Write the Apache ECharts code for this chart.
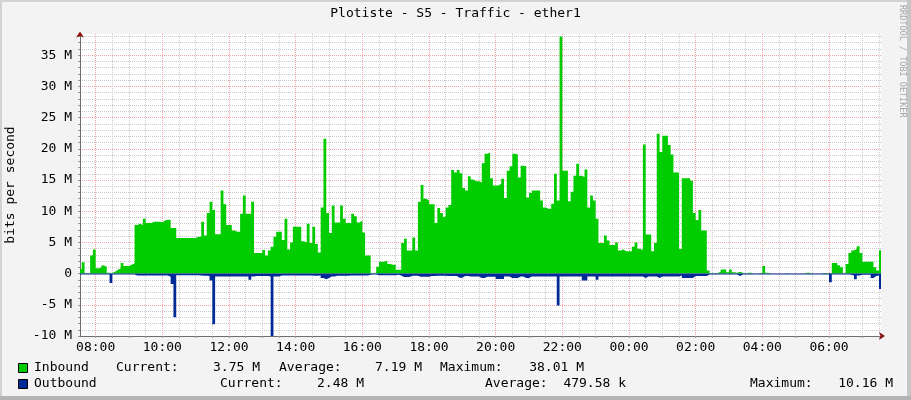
<!DOCTYPE html>
<html>
<head>
<meta charset="utf-8">
<script src="https://cdn.jsdelivr.net/npm/echarts@6/dist/echarts.min.js"></script>
<style>
html,body{margin:0;padding:0;background:#F3F3F3;}
#wrap{position:relative;width:911px;height:400px;overflow:hidden;background:#F3F3F3;}
#chart{position:absolute;left:0;top:0;width:911px;height:400px;}
.b{position:absolute;}
</style>
</head>
<body>
<div id="wrap">
<div id="chart"></div>
<div class="b" style="left:0;top:0;width:911px;height:2px;background:#D2D2D2"></div>
<div class="b" style="left:0;top:0;width:2px;height:400px;background:#D2D2D2"></div>
<div class="b" style="right:0;top:0;width:4px;height:400px;background:#C6C6C6"></div>
<div class="b" style="left:0;bottom:0;width:911px;height:4px;background:#B4B4B4"></div>
</div>
<script>
// ---- data (Mbit/s), 5-minute samples starting 07:30 ----
const startHour = 7.5;
const stepMinutes = 5;

const inboundM = [
 0.75,1.8,0.1,0.1,2.9,3.85,0.85,0.9,1.3,1.1,
 0.15,0.1,0.3,0.6,0.8,1.7,1.2,1.2,1.4,1.65,
 7.8,8.0,7.8,8.8,8.1,8.1,8.3,8.3,8.3,8.25,
 8.5,8.65,8.65,7.3,7.3,5.7,5.7,5.7,5.7,5.7,
 5.7,5.7,5.9,5.9,8.3,6.1,9.7,11.5,10.2,6.3,
 6.3,13.3,11.1,7.8,7.8,6.9,6.7,6.7,9.6,12.5,
 9.6,9.6,11.5,3.3,3.3,3.3,3.8,2.9,3.7,4.3,
 5.9,6.7,
 6.7,5.4,8.8,3.85,5.0,7.5,7.5,7.5,5.2,5.0,
 8.0,4.9,7.5,4.75,3.4,10.6,21.6,9.7,6.5,10.9,
 8.2,8.2,10.9,8.8,8.1,8.1,9.6,9.2,8.2,8.5,
 6.6,2.9,2.9,0.1,0.15,1.1,1.9,1.9,2.1,1.55,
 1.4,1.4,0.6,0.6,4.9,5.6,3.7,3.7,5.8,3.7,
 11.5,14.2,12.0,11.7,11.1,11.1,8.1,10.5,9.7,9.1,
 10.6,11.0,16.6,16.2,16.6,16.1,13.7,13.3,15.6,15.1,
 14.8,14.8,
 14.6,17.7,19.2,19.35,15.3,14.1,14.1,14.4,15.2,12.1,
 16.5,17.2,19.2,19.1,15.4,17.3,17.2,12.2,12.9,13.3,
 13.3,13.3,11.7,10.6,10.4,10.4,11.2,16.0,11.7,38.01,
 16.5,16.5,11.6,13.1,15.7,17.6,15.7,15.5,16.7,10.6,
 12.5,11.7,8.8,4.9,4.9,6.1,5.3,4.6,4.6,5.0,
 3.7,3.85,3.6,3.6,3.6,4.3,5.0,4.0,3.8,20.7,
 6.25,6.25,3.6,4.9,22.4,19.5,22.1,22.1,20.6,19.1,
 16.2,16.2,
 3.95,15.3,15.3,15.3,14.9,9.7,8.6,10.2,6.9,6.9,
 0.5,0.1,0.1,0.1,0.3,0.65,0.65,0.2,0.65,0.2,
 0.15,0.3,0.15,0,0.15,0.15,0,0,0.1,0.1,
 1.2,0.15,0.05,0,0,0,0,0,0.1,0,
 0,0,0,0,0,0.15,0.15,0,0,0,
 0,0.1,0.1,0.1,0.1,1.7,1.7,1.35,1.0,0.1,
 1.55,3.3,3.7,3.95,4.4,3.3,1.9,1.9,1.9,1.9,
 1.0,0.5,3.75
];

const outboundM = [
 0.15,0.15,0.15,0.15,0.15,0.15,0.15,0.15,0.15,0.15,
 0.15,1.5,0.15,0.15,0.15,0.15,0.15,0.15,0.15,0.15,
 0.3,0.3,0.3,0.3,0.3,0.3,0.3,0.3,0.3,0.3,
 0.3,0.3,0.5,1.65,7.0,0.25,0.25,0.25,0.25,0.25,
 0.25,0.25,0.25,0.3,0.35,0.35,0.4,1.1,8.1,0.45,
 0.45,0.45,0.45,0.45,0.45,0.45,0.45,0.45,0.45,0.45,
 0.45,1.0,0.45,0.4,0.4,0.4,0.4,0.4,0.45,10.16,
 0.45,0.45,
 0.3,0.3,0.3,0.3,0.3,0.3,0.3,0.3,0.3,0.3,
 0.3,0.3,0.35,0.35,0.3,0.7,0.9,0.7,0.45,0.45,
 0.35,0.35,0.35,0.35,0.35,0.3,0.3,0.3,0.3,0.3,
 0.3,0.3,0.2,0.15,0.15,0.25,0.25,0.25,0.25,0.25,
 0.25,0.25,0.2,0.3,0.55,0.55,0.55,0.35,0.35,0.35,
 0.5,0.5,0.5,0.5,0.4,0.4,0.35,0.35,0.35,0.35,
 0.4,0.4,0.4,0.4,0.65,0.65,0.4,0.4,0.45,0.45,
 0.45,0.45,
 0.7,0.7,0.5,0.5,0.5,0.5,0.85,0.85,0.85,0.45,
 0.45,0.7,0.7,0.7,0.45,0.45,0.7,0.7,0.45,0.45,
 0.45,0.45,0.45,0.45,0.45,0.45,0.45,0.45,5.1,0.45,
 0.45,0.45,0.45,0.45,0.45,0.45,0.45,1.1,1.1,0.45,
 0.45,0.45,1.0,0.45,0.45,0.45,0.45,0.45,0.45,0.45,
 0.45,0.45,0.45,0.45,0.45,0.45,0.45,0.45,0.45,0.7,
 0.45,0.45,0.45,0.45,0.7,0.45,0.45,0.45,0.45,0.45,
 0.45,0.45,
 0.3,0.7,0.7,0.7,0.7,0.4,0.4,0.4,0.4,0.4,
 0.15,0.15,0.15,0.15,0.15,0.15,0.15,0.15,0.15,0.15,
 0.15,0.4,0.15,0.15,0.15,0.15,0.15,0.15,0.15,0.15,
 0.15,0.15,0.15,0.15,0.15,0.15,0.15,0.15,0.15,0.15,
 0.15,0.15,0.15,0.15,0.15,0.15,0.15,0.15,0.15,0.15,
 0.15,0.15,0.15,0.15,1.4,0.15,0.15,0.15,0.15,0.15,
 0.15,0.2,0.3,0.9,0.3,0.2,0.2,0.2,0.2,0.7,
 0.4,0.3,2.48
];

const xMajorTicks = [8,10,12,14,16,18,20,22,24,26,28,30];
const yMajorTicks = [-10,-5,0,5,10,15,20,25,30,35];
const seriesNames = ['Inbound','Outbound'];
const statLabels = ['Current:','Average:','Maximum:'];
const inboundStats = ['3.75 M','7.19 M','38.01 M'];
const outboundStats = ['2.48 M','479.58 k','10.16 M'];
const titleText = 'Plotiste - S5 - Traffic - ether1';
const yAxisTitle = 'bits per second';
const watermark = 'RRDTOOL / TOBI OETIKER';

// ---- build ----
const FONT = 'DejaVu Sans Mono';
const X_MIN = 7.53, X_MAX = 31.56;
const Y_MIN = -10, Y_MAX = 38.4;
const stepH = stepMinutes / 60;
const xMinorTicks = [];
for (let h = 8; h <= 31.5; h += 0.5) xMinorTicks.push(h);
const yMinorTicks = [];
for (let v = -10; v <= 38; v += 1) yMinorTicks.push(v);

function toSeries(arr, sign) {
  const d = arr.map((v, i) => [startHour + i * stepH, sign * v]);
  d.push([startHour + arr.length * stepH, sign * arr[arr.length - 1]]);
  return d;
}
const GREEN = '#00CC00', BLUE = '#002A97';
const MINOR = '#CACACA', MAJOR = '#F2A3A3', AXIS = '#6E6E6E', ARROW = '#8B1010';
const seriesColors = [GREEN, BLUE];

const chart = echarts.init(document.getElementById('chart'), null, {renderer: 'canvas'});

const els = [];
const rowY = [368, 384];
const rowLabelX = [[116, 279, 440], [220, 485, 750]];
const rowValueX = [[260, 422, 584], [364, 626, 893]];
[inboundStats, outboundStats].forEach((stats, r) => {
  els.push({type: 'rect', silent: true, shape: {x: 18.5, y: rowY[r] - 4.5, width: 9, height: 9},
    style: {fill: seriesColors[r], stroke: '#000', lineWidth: 1}});
  els.push({type: 'text', silent: true, style: {text: seriesNames[r], x: 34, y: rowY[r], fill: '#000',
    font: '13px ' + FONT, textAlign: 'left', textVerticalAlign: 'middle'}});
  stats.forEach((s, c) => {
    els.push({type: 'text', silent: true, style: {text: statLabels[c], x: rowLabelX[r][c], y: rowY[r], fill: '#000', font: '13px ' + FONT, textAlign: 'left', textVerticalAlign: 'middle'}});
    els.push({type: 'text', silent: true, style: {text: s, x: rowValueX[r][c], y: rowY[r], fill: '#000', font: '13px ' + FONT, textAlign: 'right', textVerticalAlign: 'middle'}});
  });
});
els.push({type: 'text', silent: true, x: 902, y: 5, rotation: -Math.PI / 2,
  style: {text: watermark, x: 0, y: 0, fill: '#A6A6A6', font: '8.5px ' + FONT, textAlign: 'left', textVerticalAlign: 'middle'}});

const option = {
  animation: false,
  backgroundColor: '#F3F3F3',
  title: {text: titleText, left: 'center', top: 7, padding: 0,
    textStyle: {fontFamily: FONT, fontSize: 13, fontWeight: 'normal', color: '#000'}},
  grid: {left: 80, right: 30, top: 34, bottom: 64, containLabel: false, outerBoundsMode: 'none',
    show: true, backgroundColor: '#FFFFFF', borderWidth: 0},
  xAxis: [
    {type: 'value', min: X_MIN, max: X_MAX, position: 'bottom',
      axisLine: {show: true, onZero: false, lineStyle: {color: AXIS, width: 1}},
      axisTick: {show: true, customValues: xMinorTicks, length: 2, lineStyle: {color: '#9A9A9A'}},
      axisLabel: {show: false},
      splitLine: {show: true, lineStyle: {color: MINOR, width: 1, type: [1, 1]}}},
    {type: 'value', min: X_MIN, max: X_MAX, position: 'bottom',
      axisLine: {show: true, onZero: false, symbol: ['none', 'arrow'], symbolSize: [6, 6], symbolOffset: [0, 4],
        lineStyle: {color: ARROW, width: 0.001}},
      axisTick: {show: false, customValues: xMajorTicks},
      axisLabel: {show: true, customValues: xMajorTicks, margin: 5, fontFamily: FONT, fontSize: 13, color: '#000',
        formatter: v => String(Math.round(v) % 24).padStart(2, '0') + ':00'},
      splitLine: {show: true, lineStyle: {color: MAJOR, width: 1, type: [1, 1]}}}
  ],
  yAxis: [
    {type: 'value', min: Y_MIN, max: Y_MAX, position: 'left',
      name: yAxisTitle, nameLocation: 'middle', nameRotate: 90, nameGap: 63,
      nameTextStyle: {fontFamily: FONT, fontSize: 13, color: '#000'},
      axisLine: {show: true, onZero: false, lineStyle: {color: AXIS, width: 1}},
      axisTick: {show: true, customValues: yMinorTicks, length: 2, lineStyle: {color: '#9A9A9A'}},
      axisLabel: {show: false},
      splitLine: {show: true, lineStyle: {color: MINOR, width: 1, type: [1, 1]}}},
    {type: 'value', min: Y_MIN, max: Y_MAX, position: 'left',
      axisLine: {show: true, onZero: false, symbol: ['none', 'arrow'], symbolSize: [6, 6], symbolOffset: [0, 2.5],
        lineStyle: {color: ARROW, width: 0.001}},
      axisTick: {show: false, customValues: yMajorTicks},
      axisLabel: {show: true, customValues: yMajorTicks, margin: 8, fontFamily: FONT, fontSize: 13, color: '#000',
        formatter: v => v === 0 ? '0' : v + ' M'},
      splitLine: {show: true, lineStyle: {color: MAJOR, width: 1, type: [1, 1]}}}
  ],
  series: [
    {name: seriesNames[0], type: 'line', xAxisIndex: 0, yAxisIndex: 0, step: 'end', symbol: 'none',
      color: GREEN, silent: true, data: toSeries(inboundM, 1),
      lineStyle: {width: 0, opacity: 0}, areaStyle: {color: GREEN, opacity: 1, origin: 0}},
    {name: seriesNames[1], type: 'line', xAxisIndex: 0, yAxisIndex: 0, step: 'end', symbol: 'none',
      color: BLUE, silent: true, data: toSeries(outboundM, -1),
      lineStyle: {width: 0, opacity: 0}, areaStyle: {color: BLUE, opacity: 1, origin: 0}}
  ],
  graphic: els
};
chart.setOption(option);
</script>
</body>
</html>
